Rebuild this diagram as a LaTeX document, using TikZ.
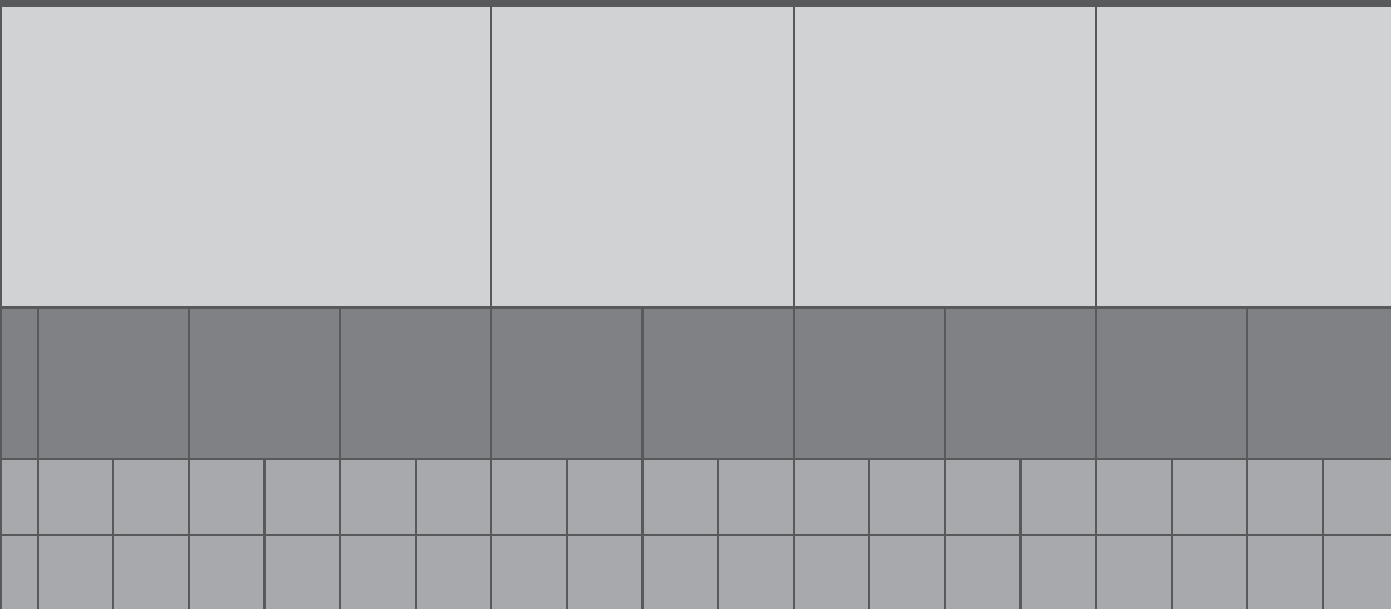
\documentclass[tikz,border=0pt]{standalone}
\definecolor{edge}{HTML}{58595B}
\definecolor{lightfill}{HTML}{D1D2D4}
\definecolor{midfill}{HTML}{808184}
\definecolor{smallfill}{HTML}{A7A9AC}
\begin{document}
\begin{tikzpicture}[x=1pt,y=-1pt,
  gridline/.style={draw=edge,line width=2.2pt}]
\useasboundingbox (0,0) rectangle (1391,609);
% fills
\fill[lightfill] (0,7) rectangle (1391,307.5);
\fill[midfill] (0,307.5) rectangle (1391,459.3);
\fill[smallfill] (0,459.3) rectangle (1391,609);
\fill[edge] (0,0) rectangle (1391,7);
% horizontal lines
\foreach \y in {307.5,459.3,535} \draw[gridline] (0,\y) -- (1391,\y);
% left edge
\draw[edge,line width=1.5pt] (0.75,7) -- (0.75,609);
% top row verticals
\foreach \k in {6,10,14} \draw[gridline] ({37.7+75.6*\k},7) -- ({37.7+75.6*\k},307.5);
% middle row verticals
\foreach \k in {0,2,...,16} \draw[gridline] ({37.7+75.6*\k},307.5) -- ({37.7+75.6*\k},459.3);
% small rows verticals
\foreach \k in {0,...,17} \draw[gridline] ({37.7+75.6*\k},459.3) -- ({37.7+75.6*\k},609);
\end{tikzpicture}
\end{document}
